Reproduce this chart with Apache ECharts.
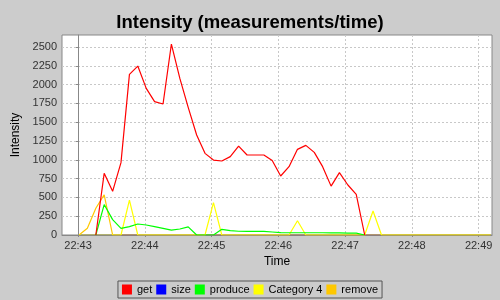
<!DOCTYPE html>
<html>
<head>
<meta charset="utf-8">
<script src="https://cdn.jsdelivr.net/npm/echarts@6/dist/echarts.min.js"></script>
<style>html,body{margin:0;padding:0;background:#cccccc;}#c{width:500px;height:300px;}</style>
</head>
<body>
<div id="c"></div>
<script>
// seconds after 22:43:00 for each sample
var seconds = [0.9, 8.4, 16.0, 23.5, 31.1, 38.6, 46.2, 53.7, 61.3, 68.8,
  76.4, 83.9, 91.5, 99.0, 106.6, 114.1, 121.7, 129.2, 136.8, 144.3,
  151.9, 159.4, 167.0, 174.5, 182.1, 189.6, 197.2, 204.7, 212.3, 219.8,
  227.4, 234.9, 242.5, 250.0, 257.6, 265.1, 272.7, 280.2, 287.8, 295.3,
  302.9, 310.4, 318.0, 325.5, 333.1, 340.6, 348.2, 355.7, 363.3, 370.8];
var getVals = [null, null, 0, 820, 581, 962, 2137, 2247, 1950, 1773,
  1742, 2540, 2083, 1698, 1330, 1086, 997, 984, 1042, 1183,
  1064, 1064, 1064, 990, 785, 909, 1139, 1192, 1099, 909,
  650, 829, 665, 540, 0, null, null, null, null, null,
  null, null, null, null, null, null, null, null, null, null];
var sizeVals = [0, 0, 0, 0, 0, 0, 0, 0, 0, 0, 0, 0, 0, 0, 0, 0, 0, 0, 0, 0, 0, 0, 0, 0, 0,
  0, 0, 0, 0, 0, 0, 0, 0, 0, 0, 0, 0, 0, 0, 0, 0, 0, 0, 0, 0, 0, 0, 0, 0, 0];
var produceVals = [null, null, 0, 405, 205, 89, 111, 146, 133, 111,
  89, 66, 80, 108, 0, 0, 0, 75, 58, 50,
  49, 49, 49, 40, 31, 30, 30, 30, 30, 30,
  28, 28, 25, 25, 0, null, null, null, null, null,
  null, null, null, null, null, null, null, null, null, null];
var cat4Vals = [0, 0, 0, 0, 0, 0, 465, 0, 0, 0,
  0, 0, 0, 0, 0, 0, 430, 0, 0, 0,
  0, 0, 0, 0, 0, 0, 190, 0, 0, 0,
  0, 0, 0, 0, 0, 319, 0, 0, 0, 0,
  0, 0, 0, 0, 0, 0, 0, 0, 0, 0];
var removeVals = [0, 90, 355, 535, 0, 0, 0, 0, 0, 0,
  0, 0, 0, 0, 0, 0, 0, 0, 0, 0, 0, 0, 0, 0, 0,
  0, 0, 0, 0, 0, 0, 0, 0, 0, 0, 0, 0, 0, 0, 0,
  0, 0, 0, 0, 0, 0, 0, 0, 0, 0];
var xTicks = [0, 60, 120, 180, 240, 300, 360];
var xTickLabels = ['22:43', '22:44', '22:45', '22:46', '22:47', '22:48', '22:49'];
var yTicks = [0, 250, 500, 750, 1000, 1250, 1500, 1750, 2000, 2250, 2500];

function pairs(vals) {
  return vals.map(function (v, i) { return [seconds[i], v]; });
}

var chart = echarts.init(document.getElementById('c'), null, {renderer: 'canvas'});
var font = 'Liberation Sans, Arial, sans-serif';
chart.setOption({
  backgroundColor: '#cccccc',
  animation: false,
  title: {
    text: 'Intensity (measurements/time)',
    left: 'center', top: 8,
    textStyle: {fontFamily: font, fontSize: 18.5, fontWeight: 'bold', color: '#000'}
  },
  legend: {
    data: ['get', 'size', 'produce', 'Category 4', 'remove'],
    bottom: 2, left: 'center',
    icon: 'rect', itemWidth: 10, itemHeight: 10, itemGap: 4,
    padding: [3, 4],
    borderColor: '#555', borderWidth: 1,
    textStyle: {fontFamily: font, fontSize: 11, color: '#000'}
  },
  grid: {left: 62, right: 8, top: 35, bottom: 65, show: true,
    backgroundColor: '#ffffff', borderColor: '#888888', borderWidth: 1},
  xAxis: {
    type: 'value', min: -14.4, max: 372,
    name: 'Time', nameLocation: 'middle', nameGap: 20,
    nameTextStyle: {fontFamily: font, fontSize: 12, color: '#000'},
    axisLine: {show: true, lineStyle: {color: '#888'}},
    axisTick: {show: true, length: 2, lineStyle: {color: '#888'}, customValues: xTicks},
    axisLabel: {customValues: xTicks, fontFamily: font, fontSize: 11, color: '#333', margin: 5,
      formatter: function (v) { return xTickLabels[xTicks.indexOf(Math.round(v))] || ''; }},
    splitLine: {show: true, lineStyle: {color: '#c8c8c8', type: [2, 2], width: 1}}
  },
  yAxis: {
    type: 'value', min: 0, max: 2660,
    name: 'Intensity', nameLocation: 'middle', nameGap: 35,
    nameTextStyle: {fontFamily: font, fontSize: 12, color: '#000'},
    axisLine: {show: true, lineStyle: {color: '#888'}},
    axisTick: {show: true, length: 2, lineStyle: {color: '#888'}, customValues: yTicks},
    axisLabel: {customValues: yTicks, fontFamily: font, fontSize: 11, color: '#333', margin: 5,
      formatter: function (v) { return String(Math.round(v)); }},
    splitLine: {show: true, lineStyle: {color: '#c8c8c8', type: [2, 2], width: 1}}
  },
  series: [
    {name: 'size', type: 'line', data: pairs(sizeVals), showSymbol: false, color: '#0000ff', lineStyle: {width: 1.2}},
    {name: 'remove', type: 'line', data: pairs(removeVals), showSymbol: false, color: '#ffc800', lineStyle: {width: 1.2}},
    {name: 'Category 4', type: 'line', data: pairs(cat4Vals), showSymbol: false, color: '#ffff00', lineStyle: {width: 1.2}},
    {name: 'produce', type: 'line', data: pairs(produceVals), showSymbol: false, color: '#00ff00', lineStyle: {width: 1.2}},
    {name: 'get', type: 'line', data: pairs(getVals), showSymbol: false, color: '#ff0000', lineStyle: {width: 1.2}}
  ]
});
</script>
</body>
</html>
